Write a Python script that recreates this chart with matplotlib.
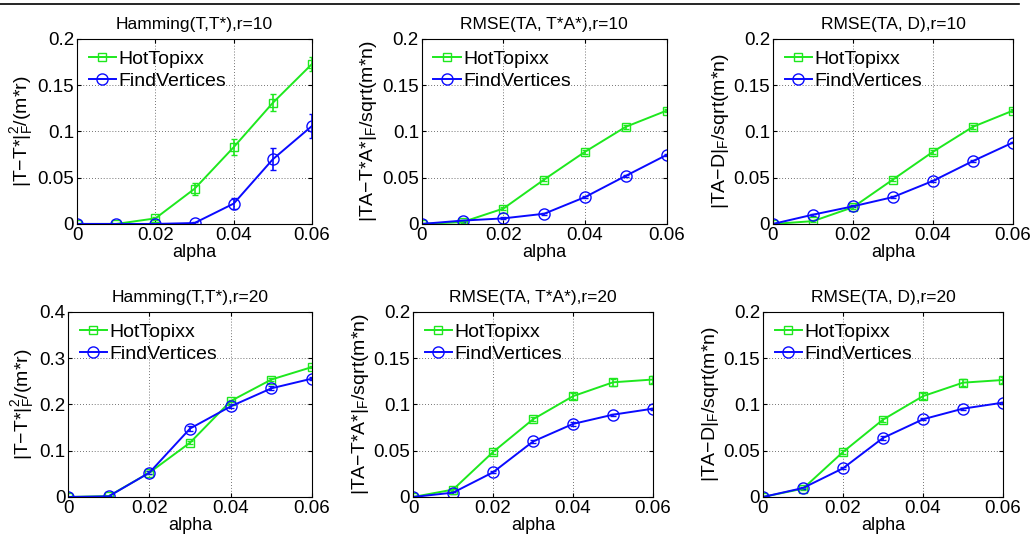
import numpy as np
import matplotlib
matplotlib.use("Agg")
import matplotlib.pyplot as plt
from matplotlib.lines import Line2D
from matplotlib.ticker import FuncFormatter

plt.rcParams["font.family"] = ["Liberation Sans", "DejaVu Sans"]
plt.rcParams["mathtext.fontset"] = "custom"
plt.rcParams["mathtext.rm"] = "Liberation Sans"
plt.rcParams["mathtext.default"] = "rm"

alpha = [0, 0.01, 0.02, 0.03, 0.04, 0.05, 0.06]

# Hamming(T,T*), r=10
ham10_hot = [0, 0, 0.006, 0.038, 0.083, 0.131, 0.173]
ham10_hot_err = [0, 0, 0.002, 0.0067, 0.009, 0.009, 0.008]
ham10_fv = [0, 0, 0, 0.001, 0.022, 0.070, 0.106]
ham10_fv_err = [0, 0, 0, 0.001, 0.006, 0.012, 0.013]

# RMSE(TA, T*A*), r=10
rta10_hot = [0, 0.002, 0.0166, 0.048, 0.078, 0.105, 0.1225]
rta10_hot_err = [0, 0.001, 0.002, 0.002, 0.002, 0.002, 0.002]
rta10_fv = [0, 0.0036, 0.006, 0.011, 0.029, 0.052, 0.0746]
rta10_fv_err = [0, 0.001, 0.001, 0.001, 0.001, 0.001, 0.001]

# RMSE(TA, D), r=10
rtd10_hot = [0, 0.003, 0.018, 0.048, 0.078, 0.105, 0.1225]
rtd10_hot_err = [0, 0.001, 0.002, 0.002, 0.002, 0.002, 0.002]
rtd10_fv = [0, 0.010, 0.019, 0.029, 0.0465, 0.068, 0.088]
rtd10_fv_err = [0, 0.001, 0.001, 0.001, 0.001, 0.001, 0.001]

# Hamming(T,T*), r=20
ham20_hot = [0, 0.002, 0.0526, 0.1175, 0.2075, 0.254, 0.281]
ham20_hot_err = [0, 0.001, 0.003, 0.003, 0.003, 0.003, 0.003]
ham20_fv = [0, 0.0014, 0.0526, 0.148, 0.196, 0.235, 0.256]
ham20_fv_err = [0, 0.001, 0.003, 0.005, 0.004, 0.004, 0.004]

# RMSE(TA, T*A*), r=20
rta20_hot = [0, 0.008, 0.0486, 0.084, 0.109, 0.124, 0.127]
rta20_hot_err = [0, 0.001, 0.002, 0.002, 0.003, 0.004, 0.004]
rta20_fv = [0, 0.0047, 0.0267, 0.060, 0.079, 0.089, 0.0955]
rta20_fv_err = [0, 0.001, 0.001, 0.002, 0.002, 0.001, 0.001]

# RMSE(TA, D), r=20
rtd20_hot = [0, 0.009, 0.0486, 0.0836, 0.109, 0.1236, 0.1265]
rtd20_hot_err = [0, 0.001, 0.002, 0.002, 0.003, 0.004, 0.003]
rtd20_fv = [0, 0.0097, 0.031, 0.0638, 0.084, 0.0955, 0.102]
rtd20_fv_err = [0, 0.001, 0.001, 0.002, 0.001, 0.001, 0.001]

titles = [
    "Hamming(T,T*),r=10", "RMSE(TA, T*A*),r=10", "RMSE(TA, D),r=10",
    "Hamming(T,T*),r=20", "RMSE(TA, T*A*),r=20", "RMSE(TA, D),r=20",
]
ylabels = [
    "|T\u2212T*|$_F^2$/(m*r)", "|TA\u2212T*A*|$_F$/sqrt(m*n)", "|TA\u2212D|$_F$/sqrt(m*n)",
    "|T\u2212T*|$_F^2$/(m*r)", "|TA\u2212T*A*|$_F$/sqrt(m*n)", "|TA\u2212D|$_F$/sqrt(m*n)",
]
ymax = [0.2, 0.2, 0.2, 0.4, 0.2, 0.2]
series = [
    (ham10_hot, ham10_hot_err, ham10_fv, ham10_fv_err),
    (rta10_hot, rta10_hot_err, rta10_fv, rta10_fv_err),
    (rtd10_hot, rtd10_hot_err, rtd10_fv, rtd10_fv_err),
    (ham20_hot, ham20_hot_err, ham20_fv, ham20_fv_err),
    (rta20_hot, rta20_hot_err, rta20_fv, rta20_fv_err),
    (rtd20_hot, rtd20_hot_err, rtd20_fv, rtd20_fv_err),
]

# axes rectangles in figure fractions (left, bottom, width, height)
positions = [
    (0.0747, 0.583, 0.228, 0.3445),
    (0.409, 0.583, 0.2376, 0.3445),
    (0.7497, 0.583, 0.2328, 0.3445),
    (0.066, 0.0745, 0.2367, 0.3445),
    (0.4006, 0.0745, 0.2328, 0.3445),
    (0.74, 0.0745, 0.2328, 0.3445),
]

green = "#1ee81e"
blue = "#0a0aff"

fig = plt.figure(figsize=(10.31, 5.37), dpi=100)
fmt = FuncFormatter(lambda v, p: f"{v:g}")

for i, pos in enumerate(positions):
    ax = fig.add_axes(pos)
    hot, hot_err, fv, fv_err = series[i]
    ax.errorbar(alpha, hot, yerr=hot_err, color=green, marker="s", ms=6,
                mfc="none", mew=1.0, lw=1.4, capsize=2, elinewidth=1.2,
                label="HotTopixx")
    ax.errorbar(alpha, fv, yerr=fv_err, color=blue, marker="o", ms=8,
                mfc="none", mew=1.0, lw=1.4, capsize=2, elinewidth=1.2,
                label="FindVertices")
    ax.set_xlim(0, 0.06)
    ax.set_ylim(0, ymax[i])
    ax.set_xticks([0, 0.02, 0.04, 0.06])
    ax.set_yticks(np.linspace(0, ymax[i], 5))
    ax.xaxis.set_major_formatter(fmt)
    ax.yaxis.set_major_formatter(fmt)
    ax.tick_params(direction="in", length=3, labelsize=13.5, top=True, right=True, pad=2)
    ax.grid(True, linestyle=(0, (1, 2.5)), color="#444444", linewidth=0.6)
    for s in ax.spines.values():
        s.set_linewidth(0.8)
    ax.set_title(titles[i], fontsize=12.5, pad=7)
    ax.set_xlabel("alpha", fontsize=13, labelpad=0)
    ax.set_ylabel(ylabels[i], fontsize=14, labelpad=2)
    handles = [
        Line2D([], [], color=green, marker="s", ms=6, mfc="none", lw=1.4),
        Line2D([], [], color=blue, marker="o", ms=8, mfc="none", lw=1.4),
    ]
    ax.legend(handles, ["HotTopixx", "FindVertices"], loc="upper left",
              frameon=False, fontsize=14, handlelength=1.4, handletextpad=0.15,
              borderaxespad=0.2, labelspacing=0.2)

# rule across the top
fig.add_artist(Line2D([0.0, 0.988], [0.992, 0.992], color="black", lw=1.2,
                      transform=fig.transFigure))

fig.savefig("out.png", dpi=100)
